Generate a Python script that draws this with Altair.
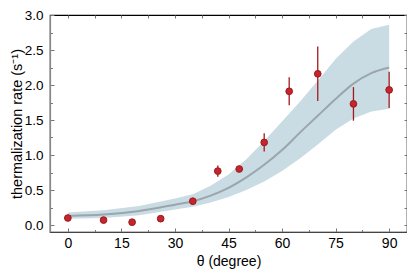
import altair as alt
import pandas as pd

# measured points
theta_pts = [0, 10, 18, 26, 35, 42, 48, 55, 62, 70, 80, 90]
rate_pts = [0.10, 0.07, 0.04, 0.09, 0.34, 0.77, 0.80, 1.18, 1.91, 2.16, 1.73, 1.93]
rate_err = [0.01, 0.01, 0.01, 0.01, 0.02, 0.08, 0.03, 0.13, 0.20, 0.39, 0.24, 0.26]

# fitted curve and confidence band
theta_fit = [0, 10, 20, 30, 35, 40, 45, 50, 55, 60, 65, 70, 75, 80, 85, 90]
fit_lo = [0.09, 0.10, 0.14, 0.22, 0.26, 0.32, 0.40, 0.50, 0.62, 0.77, 0.95, 1.15, 1.36, 1.52, 1.62, 1.66]
fit_mid = [0.13, 0.15, 0.20, 0.29, 0.34, 0.42, 0.53, 0.68, 0.86, 1.07, 1.32, 1.56, 1.80, 2.02, 2.17, 2.25]
fit_hi = [0.18, 0.21, 0.27, 0.38, 0.44, 0.56, 0.72, 0.94, 1.20, 1.48, 1.76, 2.06, 2.37, 2.62, 2.80, 2.86]

x_major = [0, 15, 30, 45, 60, 75, 90]
x_minor = [7.5, 22.5, 37.5, 52.5, 67.5, 82.5]
y_major = [0.0, 0.5, 1.0, 1.5, 2.0, 2.5, 3.0]
y_minor = [0.25, 0.75, 1.25, 1.75, 2.25, 2.75]

pts = pd.DataFrame({"theta": theta_pts, "rate": rate_pts, "err": rate_err})
pts["lo"] = pts["rate"] - pts["err"]
pts["hi"] = pts["rate"] + pts["err"]
fit = pd.DataFrame({"theta": theta_fit, "lo": fit_lo, "mid": fit_mid, "hi": fit_hi})

FONT = "Liberation Sans"
TICK = "#777777"
xs = alt.Scale(domain=[-5, 95], nice=False, zero=False)
ys = alt.Scale(domain=[-0.1, 3.0], nice=False, zero=False)

common = dict(grid=False, labelFont=FONT, titleFont=FONT, tickColor=TICK)

# axis A: labels + major inward ticks
xA = alt.Axis(orient="bottom", values=x_major, offset=-4, tickSize=4, domain=False,
              labelPadding=4, labelFontSize=14, labelColor="black",
              title="θ (degree)", titleFontSize=14, titleFontWeight="normal",
              titleColor="black", titlePadding=4, **common)
yA = alt.Axis(orient="left", values=y_major, format=".1f", offset=-4, tickSize=4, domain=False,
              labelPadding=7, labelFontSize=13.5, labelColor="black",
              title="thermalization rate (s⁻¹)", titleFontSize=14.5, titleFontWeight="normal",
              titleColor="black", titlePadding=0, **common)
# axis B: minor inward ticks
xB = alt.Axis(orient="bottom", values=x_minor, offset=-2.5, tickSize=2.5, domain=False,
              labels=False, title=None, **common)
yB = alt.Axis(orient="left", values=y_minor, offset=-2.5, tickSize=2.5, domain=False,
              labels=False, title=None, **common)
# axis C: top / right inward ticks
xC = alt.Axis(orient="top", values=x_major + x_minor, offset=-3, tickSize=3, domain=False,
              labels=False, title=None, **common)
yC = alt.Axis(orient="right", values=y_major + y_minor, offset=-3, tickSize=3, domain=False,
              labels=False, title=None, **common)
# axis D: grey left / bottom spines
xD = alt.Axis(orient="bottom", domain=True, domainColor="#444444", domainWidth=1, ticks=False,
              labels=False, title=None, grid=False, zindex=1)
yD = alt.Axis(orient="left", domain=True, domainColor="#888888", domainWidth=1.2, ticks=False,
              labels=False, title=None, grid=False, zindex=1)

band = alt.Chart(fit).mark_area(color="#c9dbe3", opacity=1).encode(
    x=alt.X("theta:Q", scale=xs, axis=xA),
    y=alt.Y("lo:Q", scale=ys, axis=yA),
    y2="hi:Q",
)
line = alt.Chart(fit).mark_line(color="#9aa6ac", strokeWidth=2, interpolate="monotone").encode(
    x=alt.X("theta:Q", scale=xs, axis=xB),
    y=alt.Y("mid:Q", scale=ys, axis=yB),
)
bars = alt.Chart(pts).mark_rule(color="#a31a1e", strokeWidth=1.3).encode(
    x=alt.X("theta:Q", scale=xs, axis=xC),
    y=alt.Y("lo:Q", scale=ys, axis=yC),
    y2="hi:Q",
)
dots = alt.Chart(pts).mark_point(filled=True, size=45, color="#c4262c", opacity=1,
                                 stroke="#9a1a1e", strokeWidth=1).encode(
    x=alt.X("theta:Q", scale=xs, axis=xD),
    y=alt.Y("rate:Q", scale=ys, axis=yD),
)

chart = alt.layer(band, line, bars, dots).resolve_axis(x="independent", y="independent").resolve_scale(
    x="shared", y="shared"
).properties(
    width=357, height=217,
    autosize=alt.AutoSizeParams(type="none"),
    padding={"left": 42, "top": 7, "right": 0, "bottom": 38},
).configure_view(stroke="black", strokeWidth=1.2)

chart.save("out.html", embed_options={"renderer": "svg", "actions": False})
